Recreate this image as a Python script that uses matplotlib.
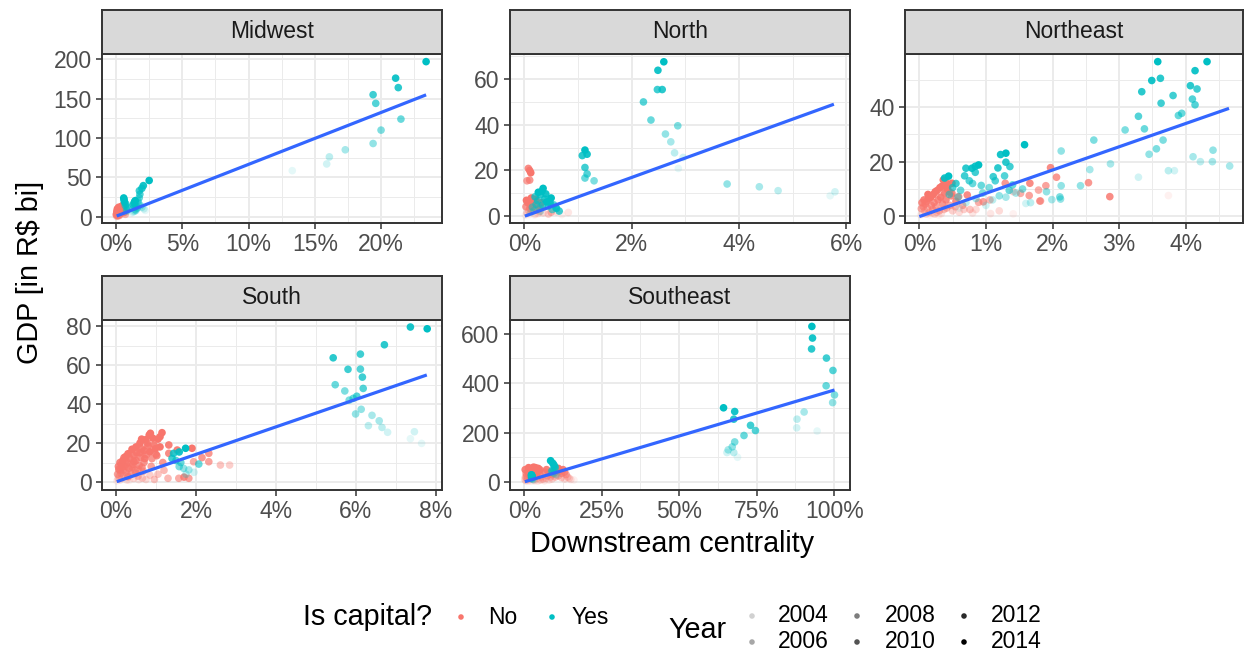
import matplotlib
matplotlib.use("Agg")
import matplotlib.pyplot as plt
from matplotlib.ticker import FixedLocator, FuncFormatter
import numpy as np

plt.rcParams['font.family'] = ['Liberation Sans', 'DejaVu Sans']

# ---------------- data ----------------
PANELS = ["Midwest", "North", "Northeast", "South", "Southeast"]
YEAR_MIN, YEAR_MAX = 2003, 2014
LEGEND_YEARS = [2004, 2006, 2008, 2010, 2012, 2014]
CAPITAL_LABELS = ["No", "Yes"]

# (centrality %, GDP R$ bi, year)
MW_yes = [
    (13.3, 58.5, 2003), (15.9, 67, 2004), (16.1, 76, 2005), (17.3, 85, 2006), (19.4, 93, 2007), (20.0, 110, 2008),
    (21.5, 124, 2009), (19.6, 144, 2010), (19.4, 155, 2011), (21.3, 164, 2012), (21.1, 176, 2013), (23.4, 197, 2014),
    (2.20, 8, 2003), (2.10, 10, 2004), (1.95, 12, 2005), (1.85, 14, 2006), (1.70, 17, 2007), (1.65, 20, 2008),
    (1.75, 24, 2009), (1.80, 28.5, 2010), (1.76, 33, 2011), (1.95, 36, 2012), (2.06, 39.5, 2013), (2.50, 46, 2014),
    (0.75, 6, 2003), (0.80, 7, 2004), (0.85, 8, 2005), (0.80, 9, 2006), (0.90, 10, 2007), (0.85, 12, 2008),
    (0.70, 14, 2009), (0.75, 16, 2010), (0.65, 18, 2011), (0.62, 20, 2012), (0.60, 22, 2013), (0.58, 23.8, 2014),
    (1.20, 5, 2003), (1.30, 6, 2004), (1.40, 7, 2005), (1.50, 8, 2006), (1.45, 9, 2007), (1.60, 11, 2008),
    (1.40, 12, 2009), (1.50, 14, 2010), (1.30, 15, 2011), (1.35, 17, 2012), (1.40, 19, 2013), (1.45, 20.4, 2014),
]
MW_no = [
    (0.02, 0.5, 2003), (0.05, 1.2, 2005), (0.08, 2.0, 2007), (0.10, 0.8, 2004), (0.12, 3.0, 2009), (0.15, 1.5, 2006),
    (0.18, 4.0, 2011), (0.20, 2.5, 2008), (0.22, 5.5, 2013), (0.25, 3.5, 2010), (0.28, 6.5, 2012), (0.30, 2.0, 2006),
    (0.32, 7.5, 2014), (0.35, 4.5, 2009), (0.38, 8.5, 2013), (0.40, 6.0, 2011), (0.45, 9.5, 2014), (0.50, 7.0, 2012),
    (0.55, 12.0, 2014), (0.60, 8.0, 2013), (0.03, 2.2, 2008), (0.07, 0.4, 2003), (0.11, 1.0, 2005), (0.14, 5.0, 2010),
    (0.19, 0.6, 2004), (0.24, 1.8, 2007), (0.27, 3.2, 2009), (0.33, 10.0, 2014), (0.42, 4.8, 2010), (0.48, 11.0, 2013),
    (0.52, 14.5, 2014), (0.62, 5.5, 2012), (0.70, 3.0, 2008), (0.05, 4.0, 2012), (0.09, 6.0, 2014), (0.16, 8.0, 2014),
    (0.10, 10.0, 2014), (0.20, 12.0, 2014), (0.40, 13.0, 2014), (0.30, 9.0, 2013), (0.02, 3.0, 2010), (0.06, 7.0, 2013),
]

NO_yes = [
    (2.87, 20.9, 2003), (2.96, 25.7, 2004), (2.80, 27.7, 2005), (2.73, 32.5, 2006), (2.63, 35.9, 2007), (2.86, 39.5, 2008),
    (2.36, 42.0, 2009), (2.22, 49.9, 2010), (2.48, 55.3, 2011), (2.57, 55.3, 2012), (2.49, 63.7, 2013), (2.60, 67.4, 2014),
    (5.70, 9.0, 2003), (5.79, 10.7, 2004), (4.73, 11.2, 2005), (4.38, 12.9, 2006), (3.78, 14.1, 2007), (1.30, 15.5, 2008),
    (1.13, 16.7, 2009), (1.17, 18.5, 2010), (1.13, 21.3, 2011), (1.08, 26.5, 2012), (1.17, 27.1, 2013), (1.13, 28.9, 2014),
    (0.35, 12.2, 2014), (0.33, 11.0, 2013), (0.30, 9.5, 2012), (0.20, 8.5, 2011), (0.42, 6.3, 2014), (0.48, 5.9, 2013),
    (0.60, 3.5, 2012), (0.65, 2.3, 2011), (0.25, 6.8, 2010), (0.38, 7.5, 2012), (0.45, 4.5, 2010), (0.52, 3.0, 2009),
    (0.15, 4.0, 2008), (0.22, 5.2, 2009), (0.28, 3.6, 2007), (0.55, 5.0, 2010), (0.18, 2.5, 2006), (0.40, 9.8, 2013),
    (0.30, 2.2, 2005), (0.12, 1.8, 2004), (0.50, 8.0, 2014), (0.58, 4.0, 2008), (0.26, 10.5, 2014), (0.34, 4.9, 2011),
]
NO_no = [
    (0.075, 20.9, 2012), (0.10, 20.0, 2013), (0.12, 19.0, 2014), (0.05, 15.5, 2010), (0.10, 15.8, 2011),
    (0.02, 0.5, 2003), (0.05, 1.5, 2005), (0.08, 2.5, 2007), (0.10, 3.5, 2009), (0.12, 4.5, 2011), (0.15, 5.5, 2013),
    (0.18, 6.5, 2014), (0.20, 1.0, 2004), (0.22, 3.0, 2008), (0.25, 5.0, 2012), (0.28, 2.0, 2006), (0.30, 4.0, 2010),
    (0.32, 6.0, 2014), (0.35, 1.5, 2005), (0.04, 7.0, 2014), (0.06, 6.0, 2013), (0.09, 0.8, 2003), (0.14, 2.2, 2006),
    (0.17, 3.8, 2009), (0.21, 7.5, 2014), (0.26, 1.2, 2004), (0.03, 4.2, 2011), (0.13, 8.0, 2014), (0.19, 0.6, 2003),
    (0.24, 2.8, 2007), (0.60, 2.0, 2005), (0.82, 1.7, 2004), (0.45, 1.0, 2006), (0.50, 1.8, 2008), (0.70, 0.8, 2003),
]

NE_yes = [
    (3.58, 56.6, 2014), (4.32, 56.6, 2014), (4.14, 53.3, 2013), (3.49, 49.7, 2013), (3.62, 50.5, 2012), (4.07, 47.8, 2012),
    (4.17, 46.6, 2011), (3.34, 45.6, 2012), (3.81, 44.2, 2011), (4.10, 42.9, 2010), (3.63, 41.4, 2011), (4.14, 40.8, 2010),
    (3.94, 37.7, 2009), (3.89, 36.9, 2009), (3.29, 36.6, 2010), (3.38, 32.0, 2009), (3.09, 31.6, 2008), (3.66, 27.9, 2008),
    (2.62, 27.9, 2008), (3.56, 24.7, 2008), (3.45, 22.7, 2007), (2.13, 23.9, 2007), (4.41, 24.2, 2007), (4.11, 21.8, 2006),
    (4.40, 20.0, 2006), (4.22, 20.0, 2005), (4.66, 18.4, 2006), (2.87, 19.2, 2006), (2.56, 17.1, 2006), (3.83, 16.7, 2004),
    (3.74, 16.7, 2005), (3.29, 14.3, 2004), (2.42, 11.2, 2007), (2.13, 11.2, 2007), (2.12, 6.3, 2007), (1.99, 6.1, 2006),
    (1.58, 26.2, 2014), (1.30, 23.1, 2014), (1.22, 22.6, 2013), (1.30, 19.8, 2012), (1.36, 18.2, 2011), (1.18, 17.7, 2012),
    (0.89, 18.8, 2014), (0.84, 18.3, 2013), (0.70, 17.6, 2012), (0.79, 17.6, 2013), (0.84, 16.1, 2011), (1.11, 14.5, 2011),
    (1.14, 13.0, 2010), (1.28, 14.8, 2010), (0.68, 14.8, 2011), (0.75, 13.0, 2010), (0.93, 11.3, 2009), (0.80, 12.0, 2009),
    (1.05, 10.5, 2008), (0.44, 14.7, 2014), (0.38, 14.0, 2013), (0.55, 12.0, 2011), (0.50, 10.5, 2010), (0.62, 9.5, 2009),
    (0.45, 8.0, 2008), (0.95, 8.5, 2008), (1.20, 7.5, 2007), (1.30, 7.0, 2006), (1.10, 6.0, 2005), (1.60, 4.7, 2004),
    (1.67, 5.0, 2005), (1.91, 9.0, 2007), (1.45, 8.5, 2006), (1.55, 10.0, 2008), (0.85, 6.5, 2006), (0.70, 5.0, 2005),
    (1.00, 4.0, 2004), (0.60, 3.0, 2003), (1.35, 9.5, 2009), (1.40, 11.5, 2009), (0.58, 7.0, 2007), (2.11, 7.1, 2008),
]
NE_no = [
    (0.02, 0.5, 2003), (0.05, 1.0, 2004), (0.08, 2.0, 2006), (0.10, 0.8, 2005), (0.12, 3.0, 2008), (0.15, 1.5, 2007),
    (0.18, 4.0, 2010), (0.20, 2.5, 2009), (0.22, 5.0, 2011), (0.25, 3.5, 2010), (0.28, 6.0, 2012), (0.30, 2.0, 2008),
    (0.32, 7.0, 2013), (0.35, 4.5, 2011), (0.38, 8.5, 2013), (0.40, 6.0, 2012), (0.42, 10.0, 2014), (0.44, 11.5, 2014),
    (0.36, 13.3, 2014), (0.40, 12.5, 2013), (0.45, 9.0, 2013), (0.48, 7.5, 2012), (0.49, 12.1, 2014), (0.03, 2.8, 2009),
    (0.06, 3.5, 2010), (0.09, 4.5, 2011), (0.11, 5.5, 2012), (0.14, 6.5, 2013), (0.17, 7.0, 2014), (0.21, 8.0, 2014),
    (0.24, 9.0, 2014), (0.27, 9.5, 2013), (0.31, 10.5, 2014), (0.34, 11.0, 2014), (0.04, 5.0, 2012), (0.07, 6.0, 2013),
    (0.13, 8.0, 2014), (0.16, 0.5, 2003), (0.19, 1.2, 2004), (0.23, 0.8, 2005), (0.26, 1.5, 2006), (0.29, 0.5, 2003),
    (0.33, 1.0, 2004), (0.37, 2.5, 2007), (0.41, 3.0, 2008), (0.46, 4.0, 2009), (0.50, 2.0, 2006), (0.54, 3.5, 2008),
    (0.60, 1.5, 2005), (0.67, 2.5, 2006), (0.76, 2.5, 2007), (0.85, 2.5, 2005), (0.59, 7.2, 2011), (0.72, 7.8, 2012),
    (0.49, 8.4, 2012), (0.89, 5.1, 2009), (0.96, 5.3, 2010), (1.06, 6.0, 2008), (1.07, 1.0, 2004), (1.29, 12.1, 2011),
    (1.41, 9.0, 2006), (1.66, 12.1, 2012), (1.79, 9.6, 2009), (1.81, 5.6, 2010), (1.97, 17.8, 2012), (2.06, 14.3, 2011),
    (1.90, 11.2, 2010), (2.54, 12.3, 2011), (2.86, 7.2, 2012), (3.74, 7.6, 2003), (1.65, 7.6, 2010), (1.82, 5.6, 2008),
    (1.52, 8.4, 2009), (1.41, 0.9, 2003), (0.55, 5.5, 2012), (0.65, 4.0, 2009), (0.80, 1.2, 2004), (1.20, 2.0, 2005),
]

SO_yes = [
    (7.78, 78.6, 2014), (7.36, 79.5, 2013), (6.71, 70.4, 2012), (6.11, 65.6, 2011), (5.43, 63.7, 2012), (5.80, 57.8, 2011),
    (6.11, 57.9, 2010), (6.16, 53.8, 2011), (6.18, 48.0, 2010), (5.48, 49.9, 2009), (5.72, 46.7, 2008), (5.93, 42.9, 2009),
    (5.83, 42.0, 2008), (6.13, 37.3, 2007), (5.99, 34.9, 2007), (6.40, 34.2, 2006), (6.58, 31.4, 2006), (6.31, 28.9, 2005),
    (6.65, 28.0, 2005), (6.79, 25.5, 2004), (7.46, 25.8, 2004), (7.36, 22.2, 2003), (7.64, 19.8, 2003), (6.02, 44.0, 2010),
    (1.74, 17.3, 2014), (1.58, 15.4, 2013), (1.44, 14.7, 2012), (1.40, 12.1, 2011), (1.50, 11.0, 2010), (1.62, 10.0, 2009),
    (1.58, 7.9, 2008), (1.69, 7.0, 2007), (2.07, 9.2, 2009), (1.82, 6.2, 2006), (1.75, 4.0, 2005), (1.95, 5.0, 2004),
]
SO_no = [
    (0.02, 0.5, 2003), (0.05, 1.5, 2005), (0.08, 3.0, 2007), (0.10, 1.0, 2004), (0.12, 4.5, 2009), (0.15, 2.0, 2006),
    (0.18, 6.0, 2010), (0.20, 3.5, 2008), (0.22, 8.0, 2011), (0.25, 5.0, 2009), (0.28, 10.0, 2012), (0.30, 2.5, 2007),
    (0.32, 7.0, 2011), (0.35, 12.0, 2013), (0.38, 4.0, 2008), (0.40, 16.8, 2014), (0.42, 9.0, 2012), (0.45, 13.5, 2013),
    (0.48, 6.0, 2010), (0.50, 11.0, 2012), (0.52, 15.0, 2013), (0.55, 3.0, 2007), (0.58, 8.5, 2011), (0.60, 20.0, 2014),
    (0.62, 12.5, 2012), (0.65, 17.0, 2013), (0.68, 5.5, 2009), (0.70, 10.0, 2011), (0.74, 21.7, 2014), (0.76, 14.0, 2012),
    (0.80, 18.5, 2013), (0.83, 24.1, 2014), (0.86, 25.0, 2014), (0.88, 8.0, 2010), (0.90, 12.0, 2011), (0.95, 19.0, 2013),
    (1.00, 14.2, 2012), (1.02, 13.5, 2012), (1.05, 22.0, 2014), (1.10, 23.2, 2014), (1.15, 25.3, 2014), (1.17, 10.0, 2011),
    (1.32, 19.0, 2013), (1.32, 14.7, 2012), (0.04, 4.0, 2010), (0.07, 6.5, 2012), (0.13, 9.0, 2013), (0.17, 11.0, 2014),
    (0.24, 13.0, 2014), (0.27, 1.0, 2004), (0.33, 0.8, 2003), (0.44, 1.8, 2005), (0.57, 1.2, 2004), (0.66, 2.0, 2006),
    (0.75, 1.3, 2005), (0.96, 1.3, 2007), (1.30, 1.9, 2008), (1.57, 1.9, 2009), (1.82, 1.9, 2010), (1.70, 2.5, 2012),
    (1.53, 16.4, 2013), (1.90, 17.3, 2014), (2.32, 14.7, 2011), (2.32, 10.4, 2010), (2.15, 12.5, 2011), (2.61, 8.7, 2007),
    (2.84, 8.7, 2006), (1.94, 10.4, 2009), (1.20, 6.0, 2008), (1.05, 4.0, 2007), (0.85, 3.5, 2006), (0.55, 6.5, 2009),
    (0.35, 5.5, 2008), (0.15, 7.5, 2011), (0.10, 6.0, 2010), (0.06, 8.0, 2012), (0.20, 12.5, 2013), (0.30, 14.5, 2014),
    (0.50, 18.0, 2014), (0.70, 16.0, 2013), (0.92, 22.5, 2014), (0.78, 20.0, 2013), (0.64, 22.0, 2014),
    (0.10, 10.0, 2013), (0.25, 9.0, 2012), (0.40, 7.5, 2011), (0.45, 10.5, 2013), (0.60, 15.0, 2013), (0.72, 12.0, 2013),
    (0.85, 15.5, 2014), (0.98, 17.0, 2014), (1.10, 18.0, 2014), (0.30, 3.0, 2009), (0.50, 4.5, 2010), (0.65, 7.5, 2011),
]

SE_yes = [
    (94.5, 206, 2003), (87.9, 219, 2004), (88.0, 254, 2005), (90.3, 283, 2006), (99.5, 321, 2007), (100.1, 352, 2008),
    (97.4, 389, 2009), (99.6, 451, 2010), (97.5, 501, 2011), (92.7, 538, 2012), (93.0, 582, 2013), (92.8, 629, 2014),
    (68.8, 100, 2003), (65.4, 119, 2004), (67.6, 119, 2005), (65.8, 130, 2006), (67.1, 142, 2007), (67.9, 162, 2008),
    (70.9, 188, 2009), (74.6, 208, 2010), (73.0, 229, 2011), (67.6, 254, 2012), (67.9, 285, 2013), (64.3, 300, 2014),
    (10.5, 28, 2003), (10.2, 31, 2004), (9.6, 34, 2005), (9.2, 38, 2006), (8.8, 42, 2007), (9.0, 47, 2008),
    (9.5, 52, 2009), (10.0, 58, 2010), (9.8, 64, 2011), (9.5, 70, 2012), (9.2, 76, 2013), (8.5, 86, 2014),
    (3.0, 8, 2003), (2.8, 10, 2004), (2.6, 12, 2005), (2.5, 14, 2006), (2.4, 16, 2007), (2.5, 18, 2008),
    (2.3, 20, 2009), (2.4, 22, 2010), (2.5, 24, 2011), (2.4, 26, 2012), (2.4, 28, 2013), (2.3, 29, 2014),
]
SE_no = [
    (0.5, 5, 2004), (1.0, 15, 2006), (1.5, 30, 2009), (2.0, 45, 2012), (2.5, 55, 2014), (3.0, 60, 2014),
    (3.5, 50, 2013), (4.0, 40, 2011), (4.5, 55, 2014), (5.0, 35, 2010), (0.8, 25, 2008), (1.2, 40, 2011),
    (1.8, 52, 2013), (2.2, 20, 2007), (2.8, 35, 2010), (3.2, 10, 2005), (3.8, 25, 2008), (4.2, 15, 2006),
    (4.8, 45, 2012), (5.5, 20, 2007), (0.3, 50, 2013), (0.6, 35, 2010), (1.4, 58, 2014), (2.6, 48, 2012),
    (3.6, 58, 2014), (0.2, 10, 2005), (0.9, 8, 2004), (1.6, 5, 2003), (2.4, 3, 2003), (3.4, 5, 2004),
    (4.4, 4, 2004), (5.2, 8, 2005), (6.0, 12, 2006), (6.5, 5, 2004), (0.4, 20, 2007), (1.1, 3, 2003),
    (2.0, 12, 2006), (3.0, 25, 2009), (4.0, 30, 2010), (5.0, 50, 2013),
    (7.0, 15, 2006), (7.5, 25, 2008), (8.0, 35, 2010), (8.5, 20, 2007), (9.0, 30, 2009), (9.5, 45, 2012),
    (10.0, 40, 2011), (10.5, 50, 2013), (11.0, 55, 2014), (11.5, 45, 2012), (12.0, 35, 2010), (12.5, 50, 2013),
    (13.0, 40, 2011), (13.5, 30, 2009), (14.0, 20, 2006), (14.5, 15, 2005), (15.0, 10, 2004), (16.0, 8, 2003),
    (10.0, 20, 2007), (11.0, 25, 2008), (12.0, 18, 2006), (13.0, 12, 2005), (9.0, 12, 2005), (8.0, 8, 2004),
    (6.8, 40, 2011), (7.2, 50, 2013),
]

YES_DATA = [MW_yes, NO_yes, NE_yes, SO_yes, SE_yes]
NO_DATA = [MW_no, NO_no, NE_no, SO_no, SE_no]

# linear-fit lines (start / end)
LINE_X0 = [0.05, 0.01, 0.0, 0.02, 0.2]
LINE_Y0 = [0.9, 0.1, -0.1, 0.2, 1.2]
LINE_X1 = [23.4, 5.77, 4.65, 7.77, 100.1]
LINE_Y1 = [154.8, 48.9, 39.5, 54.9, 372.0]

X_TICKS = [[0, 5, 10, 15, 20], [0, 2, 4, 6], [0, 1, 2, 3, 4], [0, 2, 4, 6, 8], [0, 25, 50, 75, 100]]
Y_TICKS = [[0, 50, 100, 150, 200], [0, 20, 40, 60], [0, 20, 40], [0, 20, 40, 60, 80], [0, 200, 400, 600]]

# ---------------- layout ----------------
W, H = 1247, 657
NO_COL = '#F8766D'
YES_COL = '#00BFC4'
LINE_COL = '#3366FF'
GRID_COL = '#EBEBEB'
BORDER = '#333333'

PANEL_BOX = [(102, 54, 442, 223), (510, 54, 850, 223), (905, 54, 1243, 223),
             (102, 320, 442, 490), (510, 320, 850, 490)]
STRIP_H = 44
XLIMS = [(-1.06, 24.6), (-0.267, 6.07), (-0.215, 4.86), (-0.35, 8.15), (-4.6, 105.1)]
YLIMS = [(-8, 206.7), (-2.9, 70.8), (-2.45, 59.4), (-4.1, 83.1), (-32.4, 655)]

TICK_PT = 16.5
TITLE_PT = 20.7
MS = 30  # scatter area (pt^2)


def alpha_of(year):
    return 0.1 + 0.9 * (year - YEAR_MIN) / (YEAR_MAX - YEAR_MIN)


def rgba(col, years):
    base = matplotlib.colors.to_rgb(col)
    return [(base[0], base[1], base[2], alpha_of(y)) for y in years]


def minor_from(major, lim):
    step = major[1] - major[0]
    cands = [major[0] - step / 2] + [m + step / 2 for m in major]
    return [c for c in cands if lim[0] <= c <= lim[1]]


fig = plt.figure(figsize=(W / 100, H / 100), dpi=100)


def fig_rect(l, t, r, b):
    return [l / W, 1 - b / H, (r - l) / W, (b - t) / H]


pct = FuncFormatter(lambda v, p: f"{v:g}%")

for i, name in enumerate(PANELS):
    l, t, r, b = PANEL_BOX[i]
    ax = fig.add_axes(fig_rect(l, t, r, b))
    ax.set_xlim(*XLIMS[i])
    ax.set_ylim(*YLIMS[i])
    ax.set_facecolor('white')

    ax.xaxis.set_major_locator(FixedLocator(X_TICKS[i]))
    ax.yaxis.set_major_locator(FixedLocator(Y_TICKS[i]))
    ax.xaxis.set_minor_locator(FixedLocator(minor_from(X_TICKS[i], XLIMS[i])))
    ax.yaxis.set_minor_locator(FixedLocator(minor_from(Y_TICKS[i], YLIMS[i])))
    ax.xaxis.set_major_formatter(pct)
    ax.set_axisbelow(True)
    ax.grid(which='major', color=GRID_COL, lw=1.4)
    ax.grid(which='minor', color=GRID_COL, lw=0.7)
    ax.tick_params(which='major', length=4.5, width=1.1, color=BORDER,
                   labelsize=TICK_PT, labelcolor='#4D4D4D', pad=3.0)
    ax.tick_params(which='minor', length=0)
    for s in ax.spines.values():
        s.set_color(BORDER)
        s.set_linewidth(1.4)
        s.set_zorder(5)

    nd = NO_DATA[i]
    ax.scatter([p[0] for p in nd], [p[1] for p in nd], s=MS,
               c=rgba(NO_COL, [p[2] for p in nd]), edgecolors='none', zorder=2)
    yd = YES_DATA[i]
    ax.scatter([p[0] for p in yd], [p[1] for p in yd], s=MS,
               c=rgba(YES_COL, [p[2] for p in yd]), edgecolors='none', zorder=3)
    ax.plot([LINE_X0[i], LINE_X1[i]], [LINE_Y0[i], LINE_Y1[i]], color=LINE_COL,
            lw=2.3, solid_capstyle='butt', zorder=4)

    sax = fig.add_axes(fig_rect(l, t - STRIP_H, r, t))
    sax.set_facecolor('#D9D9D9')
    sax.set_xticks([])
    sax.set_yticks([])
    for s in sax.spines.values():
        s.set_color(BORDER)
        s.set_linewidth(1.4)
    sax.text(0.5, 0.5, name, ha='center', va='center', fontsize=TICK_PT,
             color='#1A1A1A', transform=sax.transAxes)

# axis titles
fig.text(30 / W, 1 - 272 / H, "GDP [in R$ bi]", rotation=90, ha='center', va='center',
         fontsize=TITLE_PT, color='black')
fig.text(672 / W, 1 - 544 / H, "Downstream centrality", ha='center', va='center',
         fontsize=TITLE_PT, color='black')

# legend (drawn on an overlay in pixel coordinates)
lax = fig.add_axes([0, 0, 1, 1], zorder=-1)
lax.set_xlim(0, W)
lax.set_ylim(H, 0)
lax.axis('off')

lax.text(303, 617, "Is capital?", ha='left', va='center', fontsize=TITLE_PT)
for xk, xl, col, lab in [(461, 488, NO_COL, CAPITAL_LABELS[0]), (552, 572, YES_COL, CAPITAL_LABELS[1])]:
    lax.scatter([xk], [617], s=16, color=col, edgecolors='none')
    lax.text(xl, 617, lab, ha='left', va='center', fontsize=TICK_PT)

lax.text(668, 630, "Year", ha='left', va='center', fontsize=TITLE_PT)
key_cols = [(752, 778), (857, 885), (964, 991)]
key_rows = [616, 642]
for k, yr in enumerate(LEGEND_YEARS):
    cx, tx = key_cols[k // 2]
    ry = key_rows[k % 2]
    lax.scatter([cx], [ry], s=16, color=(0, 0, 0, alpha_of(yr)), edgecolors='none')
    lax.text(tx, ry, str(yr), ha='left', va='center', fontsize=TICK_PT)

fig.savefig("out.png", dpi=100)
